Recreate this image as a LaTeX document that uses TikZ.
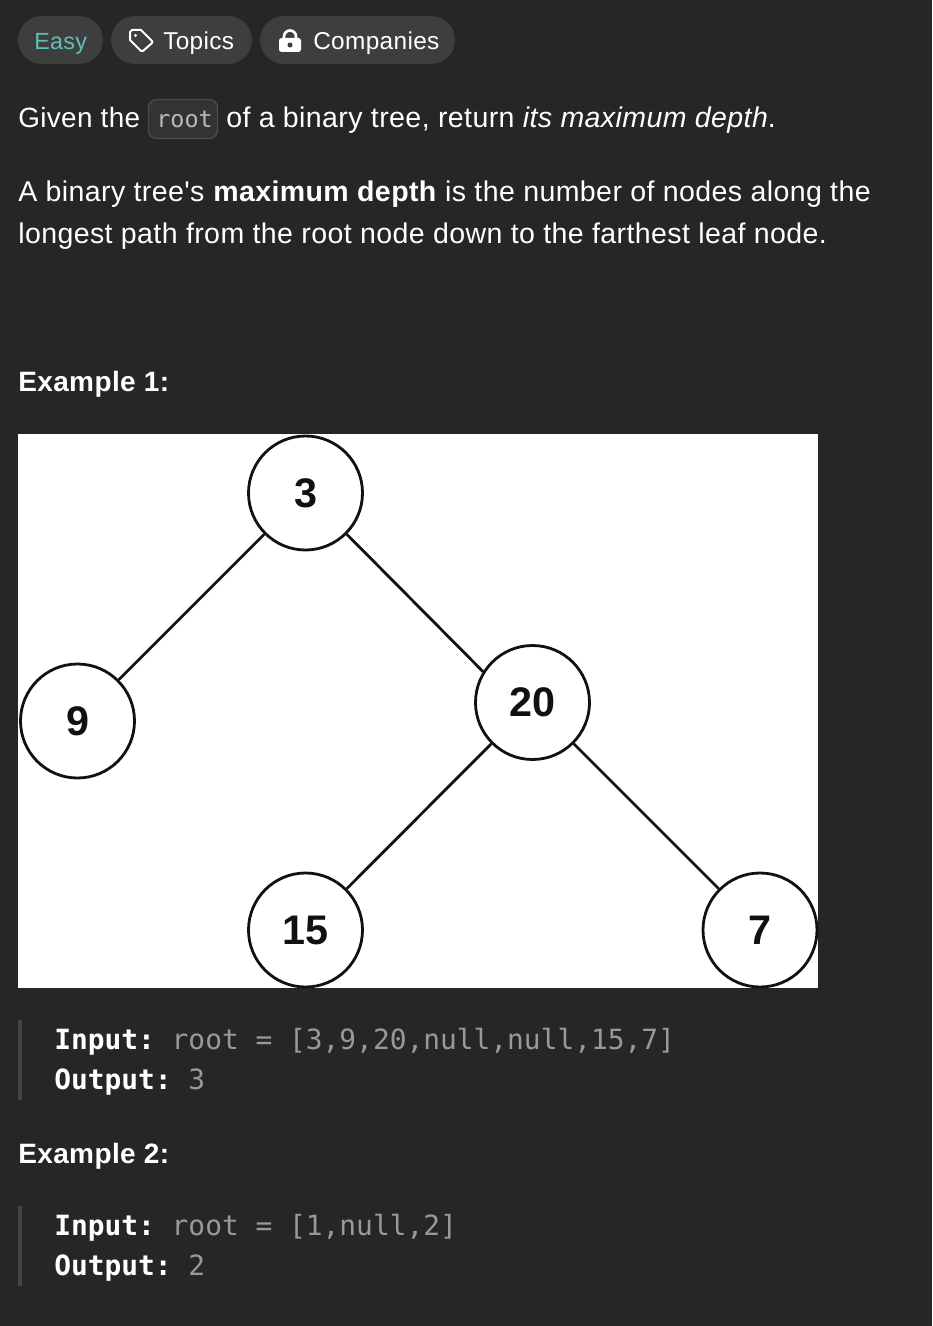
\documentclass[tikz,border=0pt]{standalone}
\usepackage{fontspec}
\setmainfont{Liberation Sans}[LetterSpace=1.4,Ligatures=TeXOff]
\setmonofont{DejaVu Sans Mono}
\usepackage{xcolor}
\definecolor{pagebg}{HTML}{262626}
\definecolor{pillbg}{HTML}{3E3E3E}
\definecolor{easytxt}{HTML}{5FBFB9}
\definecolor{codebg}{HTML}{333333}
\definecolor{codeedge}{HTML}{4C4C4C}
\definecolor{codetxt}{HTML}{B8B8B8}
\definecolor{quotebar}{HTML}{444444}
\definecolor{valtxt}{HTML}{999999}
\definecolor{treeink}{HTML}{111111}
\tikzset{
  body/.style={anchor=base west,inner sep=0pt,text=white,font=\fontsize{21.4}{25}\selectfont},
  pilltxt/.style={anchor=base west,inner sep=0pt,text=white,font=\fontsize{18.3}{22}\selectfont},
  head/.style={anchor=base west,inner sep=0pt,text=white,font=\fontsize{21}{25}\selectfont\bfseries},
  mono/.style={anchor=base west,inner sep=0pt,text=white,font=\fontsize{20.9}{25}\selectfont\ttfamily},
  treenode/.style={circle,draw=treeink,line width=2.1pt,fill=white,minimum size=85.5pt,inner sep=0pt,text=treeink,font=\fontsize{31}{36}\selectfont\bfseries},
  edge/.style={draw=treeink,line width=2.1pt},
  pill/.style={fill=pillbg,rounded corners=18pt},
  bar/.style={fill=quotebar}
}
\begin{document}
\begin{tikzpicture}[x=0.75pt,y=-0.75pt]
\useasboundingbox (0,0) rectangle (932,1326);
\fill[pagebg] (0,0) rectangle (932,1326);

\fill[pill] (18,16) rectangle (103,64);
\fill[pill] (111,16) rectangle (252,64);
\fill[pill] (260,16) rectangle (455,64);
\node[pilltxt,text=easytxt,font=\fontsize{17.5}{22}\selectfont] (easy) at (34,50) {Easy};
\node[pilltxt] (topics) at (163,50) {Topics};
\node[pilltxt] (companies) at (313,50) {Companies};

\draw[white,line width=1.5pt,line join=round] (130,32) to[out=-90,in=180] (132,30) -- (141,30) -- (152,41) to[out=50,in=-50] (152,43) -- (143,51) to[out=-40,in=40] (141,51) -- (130,40) -- cycle;
\fill[white] (135.5,35.5) circle[radius=1.6];
\draw[white,line width=2pt] (284,39) -- (284,36.5) arc[start angle=180,end angle=360,radius=6] -- (296,39);
\fill[white,rounded corners=2pt] (279,38) rectangle (301,52);
\fill[pillbg] (290,45) circle[radius=2.5];

\node[body,font=\fontsize{20.9}{25}\selectfont] (given) at (18,127.5) {Given the};
\fill[codebg,draw=codeedge,line width=1pt,rounded corners=6pt] (148.5,99.5) rectangle (217.5,138.5);
\node[mono,text=codetxt,font=\fontsize{17.6}{22}\selectfont\ttfamily] (root) at (156,127.5) {root};
\node[body] (rest) at (226,127.5) {of a binary tree, return \textit{its maximum depth}.};

\node[body] (line1) at (18,201.5) {A binary tree's \textbf{maximum depth} is the number of nodes along the};
\node[body] (line2) at (18,243.5) {longest path from the root node down to the farthest leaf node.};

\node[head] (ex1) at (18,391.5) {Example 1:};

\fill[white] (18,434) rectangle (818,988);
\node[treenode] (n3) at (305.5,493) {3};
\node[treenode] (n9) at (77.5,721) {9};
\node[treenode] (n20) at (532.5,702.5) {20};
\node[treenode] (n15) at (305.5,930) {15};
\node[treenode] (n7) at (760,930) {7};
\path[edge] (n3.-135) -- (n9.45);
\path[edge] (n3.-45) -- (n20.148);
\path[edge] (n20.-135) -- (n15.45);
\path[edge] (n20.-45) -- (n7.135);

\fill[bar] (18,1020) rectangle (22,1100);
\node[mono] (in1) at (54,1049) {\textbf{Input:} \textcolor{valtxt}{root = [3,9,20,null,null,15,7]}};
\node[mono] (out1) at (54,1089) {\textbf{Output:} \textcolor{valtxt}{3}};

\node[head] (ex2) at (18,1163) {Example 2:};

\fill[bar] (18,1206) rectangle (22,1286);
\node[mono] (in2) at (54,1235) {\textbf{Input:} \textcolor{valtxt}{root = [1,null,2]}};
\node[mono] (out2) at (54,1275) {\textbf{Output:} \textcolor{valtxt}{2}};
\end{tikzpicture}
\end{document}
